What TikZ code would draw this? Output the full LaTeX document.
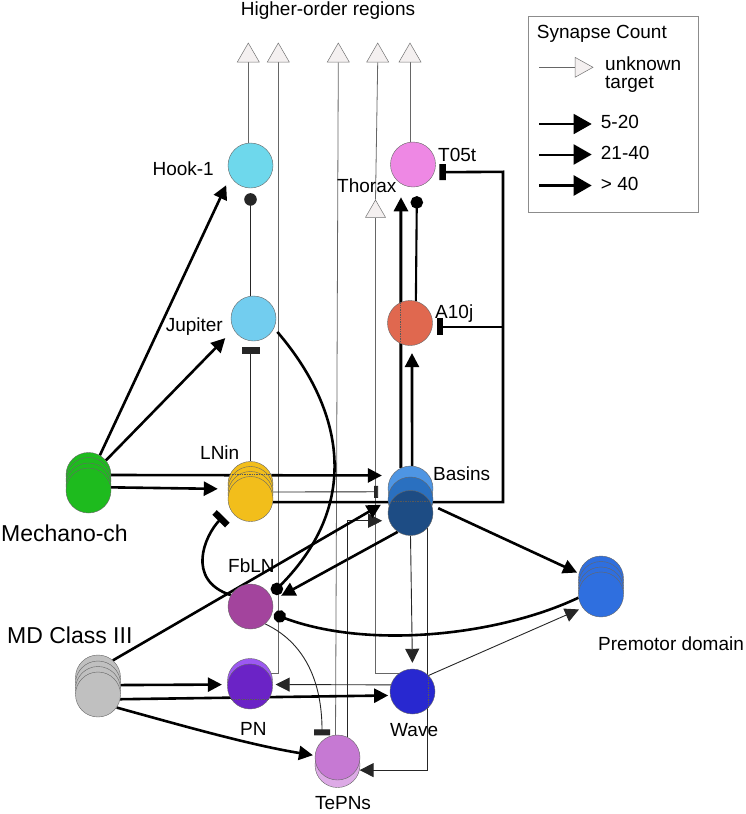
\documentclass[tikz,border=0pt]{standalone}
\usepackage{fontspec}
\setmainfont{Liberation Sans}
\usetikzlibrary{arrows.meta,shapes.geometric}
\pgfdeclarelayer{bg}
\pgfsetlayers{bg,main}
\definecolor{hookc}{HTML}{6ED8EC}
\definecolor{jupc}{HTML}{72CDEF}
\definecolor{t05c}{HTML}{EE88E4}
\definecolor{a10c}{HTML}{E0684F}
\definecolor{cBasA}{HTML}{4E95E3}
\definecolor{cBasB}{HTML}{2A70C0}
\definecolor{cBasC}{HTML}{1D4C84}
\definecolor{lnc}{HTML}{F2BE1B}
\definecolor{mec}{HTML}{1EBB1E}
\definecolor{fbc}{HTML}{A3449D}
\definecolor{mdc}{HTML}{C0C0C0}
\definecolor{pnlc}{HTML}{9C58F2}
\definecolor{pnc}{HTML}{6B23C6}
\definecolor{wavec}{HTML}{2828D0}
\definecolor{tepc}{HTML}{C679D3}
\definecolor{teplc}{HTML}{DDAAE6}
\definecolor{pmc}{HTML}{2F6FDF}
\definecolor{trifill}{HTML}{F4F0F0}
\begin{document}
\begin{tikzpicture}[x=1pt,y=-1pt,
  cell/.style={circle,draw=black!60,line width=0.4pt,minimum size=45pt,inner sep=0pt},
  lbl/.style={font=\fontsize{19}{22}\selectfont,inner sep=0pt},
  biglbl/.style={font=\fontsize{23}{27}\selectfont,inner sep=0pt},
  hot/.style={regular polygon,regular polygon sides=3,draw=black!55,fill=trifill,minimum size=25.4pt,inner sep=0pt,line width=0.5pt},
  thinln/.style={line width=0.9pt,draw=black!85},
  grayln/.style={line width=0.8pt,draw=black!60},
  thickln/.style={line width=2.6pt},
  medln/.style={line width=2.1pt},
  arr/.style={-{Triangle[length=14pt,width=14pt]}},
  dotend/.style={-{Circle[length=12.5pt,width=12.5pt]}},
  barend/.style={-{Rectangle[length=6.5pt,width=#1]}},
  barend/.default=18pt,
  ovl/.style={densely dotted,line width=1.4pt,draw=black!65}
]
\useasboundingbox (0,0) rectangle (746,814);

% higher-order targets
\node[hot] (tri1) at (248.3,55.7) {};
\node[hot] (tri2) at (278.3,55.7) {};
\node[hot] (tri3) at (338.3,55.7) {};
\node[hot] (tri4) at (377.7,55.7) {};
\node[hot] (tri5) at (410,55.7) {};
\node[hot,minimum size=23pt] (thx) at (375.5,211.5) {};

% neurons
\node[cell,fill=hookc] (hook) at (250.5,165.5) {};
\node[cell,fill=jupc] (jup) at (253.5,318.5) {};
\node[cell,fill=t05c] (t05t) at (413,164.5) {};
\node[cell,fill=a10c] (a10j) at (410,323) {};
\node[cell,fill=cBasA] (basA) at (410.5,488.5) {};
\node[cell,fill=cBasB] (basB) at (410.5,499.5) {};
\node[cell,fill=cBasC] (basC) at (410.5,513) {};
\node[cell,fill=lnc] (ln1) at (250.5,484) {};
\node[cell,fill=lnc] (ln2) at (250.5,489) {};
\node[cell,fill=lnc] (ln3) at (250.5,494) {};
\node[cell,fill=lnc] (ln4) at (250.5,499) {};
\node[cell,fill=mec] (me1) at (88.5,475) {};
\node[cell,fill=mec] (me2) at (88.5,480) {};
\node[cell,fill=mec] (me3) at (88.5,485.5) {};
\node[cell,fill=mec] (me4) at (88.5,490.5) {};
\node[cell,fill=fbc] (fbln) at (250.5,606.5) {};
\node[cell,fill=mdc] (md1) at (98,677.5) {};
\node[cell,fill=mdc] (md2) at (98,683.5) {};
\node[cell,fill=mdc] (md3) at (98,689) {};
\node[cell,fill=mdc] (md4) at (98,694.5) {};
\node[cell,fill=pnlc] (pnL) at (250,681) {};
\node[cell,fill=pnc] (pn) at (250,686.5) {};
\node[cell,fill=wavec] (wave) at (412.5,691.5) {};
\node[cell,fill=teplc] (tepL) at (337.5,765) {};
\node[cell,fill=tepc] (tep) at (337.5,757.5) {};
\node[cell,fill=pmc] (pm1) at (601,578.5) {};
\node[cell,fill=pmc] (pm2) at (601,584) {};
\node[cell,fill=pmc] (pm3) at (601,589.5) {};
\node[cell,fill=pmc] (pm4) at (601,594.5) {};

% labels
\node[lbl,anchor=base] (lhor) at (328,15.3) {Higher-order regions};
\node[lbl,anchor=base east] (lhook) at (214,175) {Hook-1};
\node[lbl,anchor=base east] (ljup) at (223,331) {Jupiter};
\node[lbl,anchor=base west] (lt05) at (438,161.5) {T05t};
\node[lbl,anchor=base west] (lthx) at (337,192) {Thorax};
\node[lbl,anchor=base west] (la10) at (435,318.5) {A10j};
\node[lbl,anchor=base west] (lbas) at (433,480.6) {Basins};
\node[lbl,anchor=base west] (lln) at (200,459.6) {LNin};
\node[biglbl,anchor=base west] (lme) at (1,541.5) {Mechano-ch};
\node[lbl,anchor=base west] (lfb) at (228,572.6) {FbLN};
\node[biglbl,anchor=base west] (lmd) at (7,643.5) {MD Class III};
\node[lbl,anchor=base] (lpn) at (253.3,735.6) {PN};
\node[lbl,anchor=base west] (lwave) at (390,736.6) {Wave};
\node[lbl,anchor=base] (ltep) at (343,809.5) {TePNs};
\node[lbl,anchor=base west] (lpm) at (598,650.6) {Premotor domain};

% legend
\draw[black!45,line width=0.6pt] (528,16) rectangle (698,212);
\node[lbl,anchor=base west] (lg0) at (536.7,38.5) {Synapse Count};
\coordinate (lga) at (539,67.3);
\coordinate (lgb) at (575,67.3);
\draw[grayln] (lga) -- (lgb);
\draw[draw=black!55,fill=trifill,line width=0.5pt] (575,57.3) -- (593,67.3) -- (575,77.3) -- cycle;
\node[lbl,anchor=base west] (lg1) at (605,70.7) {unknown};
\node[lbl,anchor=base west] (lg2) at (605,88.5) {target};
\coordinate (lgc1) at (539.3,124); \coordinate (lgd1) at (591.7,124);
\coordinate (lgc2) at (539.3,154.5); \coordinate (lgd2) at (591.7,154.5);
\coordinate (lgc3) at (539.3,185.5); \coordinate (lgd3) at (591.7,185.5);
\draw[line width=1.6pt,-{Triangle[length=18pt,width=20pt]}] (lgc1) -- (lgd1);
\draw[line width=2pt,-{Triangle[length=18pt,width=20pt]}] (lgc2) -- (lgd2);
\draw[line width=2.4pt,-{Triangle[length=18pt,width=20pt]}] (lgc3) -- (lgd3);
\node[lbl,anchor=base west] (lg3) at (600.7,128.6) {5-20};
\node[lbl,anchor=base west] (lg4) at (600.7,159.3) {21-40};
\node[lbl,anchor=base west] (lg5) at (600.7,190.3) {> 40};

\coordinate (fbk) at (503,171.8);

\begin{pgfonlayer}{bg}
% to higher-order regions
\draw[grayln] (tri1.south) -- (tri1.south |- hook.north);
\draw[grayln] (pnL.20) -| (tri2.south);
\draw[grayln] (tep.95) -- (tri3.south);
\draw[grayln] (wave.125) -| (thx.south);
\draw[grayln] (thx.north) -- (tri4.south);
\draw[grayln] (tri5.south) -- (tri5.south |- t05t.north);
% Mechano-ch
\draw[thickln,arr,shorten >=10pt] (me1.60) -- (hook.208);
\draw[thickln,arr,shorten >=12pt] (me1.40) -- (jup.209);
\draw[thickln,arr,shorten >=10pt] (me1.east) -- (basA.145);
\draw[thickln,arr,shorten >=10pt] (me4.8) -- (ln2.west);
% Jupiter / LNin
\draw[thinln,dotend,shorten >=5pt] (hook.south |- jup.north) -- (hook.south);
\draw[thinln,barend=18pt,shorten >=5.7pt] (ln1.north) -- (ln1.north |- jup.south);
\draw[thinln,-{Rectangle[length=4pt,width=12pt]},shorten >=11pt] (ln3.5) -- (basB.160);
\draw[thickln,barend=16pt,shorten >=5pt] (ln4.352) -| (fbk) -- (t05t.340);
\draw[thickln,barend=17pt,shorten >=4.3pt] (fbk |- a10j.350) -- (a10j.350);
% Basins
\draw[line width=3pt,arr,shorten >=13.5pt] (basA.115) -- (t05t.238);
\draw[thickln,arr,shorten >=7.5pt] (basA.86) -- (a10j.275);
\draw[medln,dotend,shorten >=9.3pt] (a10j.75) -- (t05t.280);
\draw[thickln,arr,shorten >=10pt] (basC.236) -- (fbln.15);
\draw[thickln,arr,shorten <=7pt,shorten >=2pt] (basC.20) -- (pm1.167);
\draw[thinln,arr,shorten >=6pt] (basC.south) -- (wave.north);
\draw[thinln,arr] (basC.-40) |- (tepL.-13);
\draw[thinln,arr,shorten >=7pt] (tep.65) |- (basC.200);
% curves
\draw[thickln,dotend,shorten <=5pt,shorten >=3pt] (jup.-25) .. controls (340,405) and (365,500) .. (fbln.29);
\draw[thickln,dotend,shorten >=2pt] (pm4.188) .. controls (500,635) and (370,650) .. (fbln.-18);
\draw[thickln,barend=18pt,shorten >=10pt] (fbln.150) .. controls (185,580) and (205,535) .. (ln4.207);
\draw[thinln,-{Rectangle[length=6pt,width=16pt]},shorten >=5.5pt] (fbln.-50) .. controls (310,645) and (322,690) .. (tep.133);
% MD Class III
\draw[thickln,arr,shorten >=8pt] (md1.49) -- (basB.183);
\draw[thickln,arr,shorten >=5.5pt] (md3.10) -- (pn.175);
\draw[thickln,arr,shorten >=2pt] (md4.-12) -- (wave.190);
\draw[thickln,arr,shorten >=2pt] (md4.-35) .. controls (180,725) and (250,745) .. (tep.175);
% Wave
\draw[thinln,arr,shorten >=3pt] (wave.163) -- (pn.5);
\draw[thinln,arr,shorten >=4pt] (wave.45) -- (pm4.216);
\end{pgfonlayer}

% pass-through marks
\draw[ovl] (ln1.155) -- (ln1.25);
\draw[ovl] (basC.150) -- (basC.30);
\draw[ovl] (a10j.114) -- (a10j.246);
\draw[ovl] (pn.214) -- (pn.326);
\draw[ovl] (wave.46) -- (wave.-46);
\end{tikzpicture}
\end{document}
